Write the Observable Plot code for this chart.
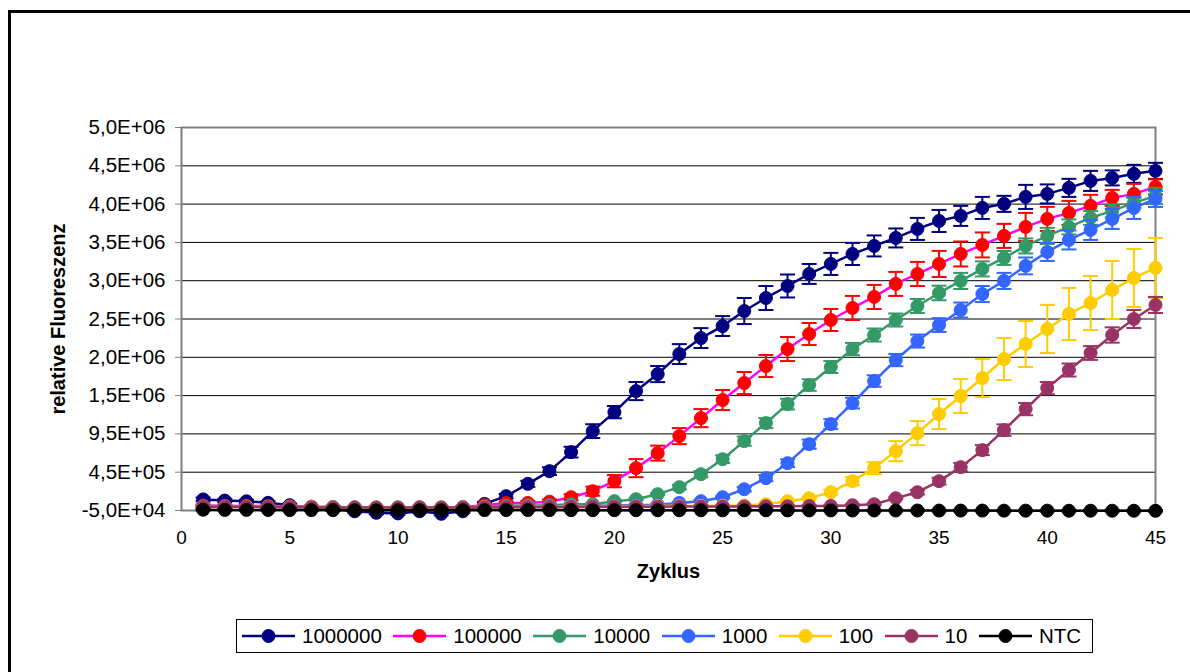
<!DOCTYPE html>
<html>
<head>
<meta charset="utf-8">
<script src="https://cdn.jsdelivr.net/npm/d3@7"></script>
<script src="https://cdn.jsdelivr.net/npm/@observablehq/plot@0.6"></script>
<style>
  body { margin: 0; background: #fff; font-family: "Liberation Sans", Arial, sans-serif; }
  #page { position: relative; width: 1190px; height: 672px; overflow: hidden; background: #fff; }
  #frame { position: absolute; left: 8px; top: 10px; width: 1300px; height: 800px;
           border-left: 3px solid #000; border-top: 3px solid #000; box-sizing: border-box; }
  #chart { position: absolute; left: 0; top: 0; }
  #legend { position: absolute; left: 236px; top: 619px; width: 857px; height: 34px;
            border: 1px solid #000; box-sizing: border-box; display: flex; align-items: center;
            padding-left: 5px; font-size: 20.5px; color: #000; background: #fff; }
  .item { display: flex; align-items: center; margin-right: 11.5px; }
  .item span { margin-left: 7px; line-height: 1; }
</style>
</head>
<body>
<div id="page">
  <div id="frame"></div>
  <div id="chart"></div>
  <div id="legend"></div>
</div>
<script>
// qPCR amplification curves: mean fluorescence per cycle with standard deviation
const cycles = d3.range(1, 46);

const seriesNames = ["1000000", "100000", "10000", "1000", "100", "10", "NTC"];
const lineColors   = ["#000080", "#FF00FF", "#339966", "#3366FF", "#FFCC00", "#993366", "#000000"];
const markerColors = ["#000080", "#FF0000", "#339966", "#3366FF", "#FFCC00", "#993366", "#000000"];

const xTicks = [0, 5, 10, 15, 20, 25, 30, 35, 40, 45];
const yTicks = [-50000, 450000, 950000, 1450000, 1950000, 2450000, 2950000, 3450000, 3950000, 4450000, 4950000];
const yTickLabels = ["-5,0E+04", "4,5E+05", "9,5E+05", "1,5E+06", "2,0E+06", "2,5E+06",
                     "3,0E+06", "3,5E+06", "4,0E+06", "4,5E+06", "5,0E+06"];

// mean fluorescence per dilution
const v1000000 = [95000, 80000, 70000, 50000, 20000, -15000, -33000, -60000, -80000, -88000,
  -60000, -93000, -60000, 36000, 137000, 298000, 464000, 712000, 986000, 1234000,
  1509000, 1731000, 1992000, 2201000, 2358000, 2554000, 2724000, 2881000, 3038000, 3169000,
  3299000, 3404000, 3508000, 3626000, 3730000, 3796000, 3900000, 3953000, 4044000, 4083000,
  4162000, 4253000, 4292000, 4345000, 4384000];
const v100000 = [15000, 12000, 10000, 8000, 5000, 0, -5000, -10000, -15000, -15000,
  -10000, -15000, -5000, 20000, 49000, 49000, 65000, 124000, 202000, 333000,
  503000, 699000, 921000, 1156000, 1392000, 1614000, 1836000, 2058000, 2254000, 2437000,
  2594000, 2738000, 2908000, 3038000, 3169000, 3299000, 3417000, 3535000, 3652000, 3757000,
  3835000, 3927000, 4031000, 4083000, 4175000];
const v10000 = [5000, 5000, 3000, 2000, 0, -3000, -5000, -8000, -10000, -10000,
  -8000, -10000, -5000, 0, 10000, 15000, 20000, 32000, 32000, 72000,
  98000, 163000, 255000, 424000, 620000, 856000, 1091000, 1339000, 1588000, 1823000,
  2058000, 2241000, 2437000, 2620000, 2790000, 2947000, 3104000, 3247000, 3404000, 3535000,
  3652000, 3770000, 3861000, 3966000, 4057000];
const v1000 = [0, 0, -2000, -3000, -5000, -8000, -10000, -12000, -15000, -15000,
  -12000, -15000, -10000, -5000, 0, 5000, 8000, 10000, 12000, 15000,
  20000, 26000, 49000, 72000, 124000, 228000, 372000, 568000, 816000, 1078000,
  1352000, 1640000, 1914000, 2162000, 2371000, 2567000, 2776000, 2947000, 3143000, 3326000,
  3482000, 3613000, 3757000, 3900000, 4018000];
const v100 = [0, 0, 0, -2000, -3000, -5000, -8000, -10000, -10000, -10000,
  -10000, -10000, -8000, -5000, -3000, 0, 0, 2000, 3000, 5000,
  5000, 8000, 8000, 10000, 12000, 15000, 32000, 72000, 111000, 189000,
  333000, 503000, 725000, 960000, 1209000, 1444000, 1679000, 1927000, 2124000, 2320000,
  2516000, 2659000, 2829000, 2986000, 3117000];
const v10 = [0, 0, -2000, -3000, -5000, -8000, -10000, -12000, -12000, -12000,
  -10000, -12000, -10000, -8000, -5000, -5000, -3000, -3000, 0, 0,
  0, 0, 2000, 2000, 3000, 3000, 5000, 5000, 8000, 10000,
  19000, 32000, 111000, 189000, 333000, 516000, 738000, 999000, 1274000, 1548000,
  1784000, 2006000, 2241000, 2450000, 2633000];
const vNTC = [-40000, -42000, -42000, -43000, -44000, -45000, -45000, -46000, -47000, -47000,
  -46000, -47000, -46000, -45000, -44000, -44000, -45000, -45000, -46000, -46000,
  -46000, -47000, -47000, -47000, -48000, -48000, -48000, -49000, -49000, -49000,
  -50000, -50000, -50000, -50000, -51000, -51000, -51000, -52000, -52000, -52000,
  -53000, -53000, -53000, -53000, -54000];

// standard deviation per dilution
const e1000000 = [25000, 22000, 20000, 20000, 20000, 18000, 18000, 18000, 20000, 20000,
  18000, 20000, 20000, 25000, 30000, 40000, 50000, 70000, 90000, 80000,
  118000, 105000, 130000, 130000, 130000, 170000, 157000, 150000, 130000, 144000,
  144000, 137000, 124000, 144000, 144000, 131000, 144000, 105000, 157000, 124000,
  118000, 131000, 98000, 118000, 105000];
const e100000 = [15000, 15000, 15000, 15000, 15000, 15000, 15000, 15000, 15000, 15000,
  15000, 15000, 15000, 15000, 20000, 25000, 30000, 40000, 60000, 80000,
  118000, 98000, 105000, 118000, 131000, 144000, 144000, 157000, 144000, 144000,
  157000, 157000, 157000, 157000, 170000, 163000, 163000, 157000, 183000, 157000,
  157000, 144000, 105000, 131000, 98000];
const e10000 = [12000, 12000, 12000, 12000, 12000, 12000, 12000, 12000, 12000, 12000,
  12000, 12000, 12000, 12000, 12000, 12000, 12000, 12000, 12000, 12000,
  12000, 12000, 30000, 40000, 50000, 60000, 65000, 70000, 75000, 78000,
  80000, 85000, 85000, 91000, 95000, 105000, 98000, 91000, 98000, 105000,
  98000, 91000, 85000, 65000, 105000];
const e1000 = [12000, 12000, 12000, 12000, 12000, 12000, 12000, 12000, 12000, 12000,
  12000, 12000, 12000, 12000, 12000, 12000, 12000, 12000, 12000, 12000,
  12000, 12000, 12000, 12000, 12000, 30000, 40000, 50000, 60000, 65000,
  70000, 75000, 80000, 85000, 90000, 98000, 105000, 105000, 110000, 118000,
  124000, 131000, 131000, 144000, 105000];
const e100 = [12000, 12000, 12000, 12000, 12000, 12000, 12000, 12000, 12000, 12000,
  12000, 12000, 12000, 12000, 12000, 12000, 12000, 12000, 12000, 12000,
  12000, 12000, 12000, 12000, 12000, 12000, 12000, 12000, 12000, 30000,
  52000, 78000, 131000, 157000, 196000, 222000, 248000, 274000, 300000, 314000,
  340000, 353000, 379000, 379000, 392000];
const e10 = [12000, 12000, 12000, 12000, 12000, 12000, 12000, 12000, 12000, 12000,
  12000, 12000, 12000, 12000, 12000, 12000, 12000, 12000, 12000, 12000,
  12000, 12000, 12000, 12000, 12000, 12000, 12000, 12000, 12000, 12000,
  12000, 12000, 12000, 30000, 45000, 55000, 65000, 75000, 80000, 80000,
  85000, 90000, 100000, 118000, 105000];
const eNTC = [10000, 10000, 10000, 10000, 10000, 10000, 10000, 10000, 10000, 10000,
  10000, 10000, 10000, 10000, 10000, 10000, 10000, 10000, 10000, 10000,
  10000, 10000, 10000, 10000, 10000, 10000, 10000, 10000, 10000, 10000,
  10000, 10000, 10000, 10000, 10000, 10000, 10000, 10000, 10000, 10000,
  10000, 10000, 10000, 10000, 10000];

const means = [v1000000, v100000, v10000, v1000, v100, v10, vNTC];
const errors = [e1000000, e100000, e10000, e1000, e100, e10, eNTC];

// one table per series
const tables = seriesNames.map((name, s) =>
  cycles.map((c, i) => ({series: name, cycle: c, value: means[s][i], err: errors[s][i]}))
);

// horizontal cap of an error bar, sized from the dot radius
const capSymbol = {
  draw(context, size) {
    const w = Math.sqrt(size / Math.PI);
    context.moveTo(-w, 0);
    context.lineTo(w, 0);
  }
};

const yLabel = new Map(yTicks.map((t, i) => [t, yTickLabels[i]]));

const seriesMarks = tables.flatMap((rows, s) => [
  Plot.line(rows, {x: "cycle", y: "value", stroke: lineColors[s], strokeWidth: 2.5}),
  Plot.ruleX(rows, {x: "cycle", y1: d => d.value - d.err, y2: d => d.value + d.err,
                    stroke: markerColors[s], strokeWidth: 2}),
  Plot.dot(rows, {x: "cycle", y: d => d.value - d.err, symbol: capSymbol, r: 7.5,
                  fill: "none", stroke: markerColors[s], strokeWidth: 2}),
  Plot.dot(rows, {x: "cycle", y: d => d.value + d.err, symbol: capSymbol, r: 7.5,
                  fill: "none", stroke: markerColors[s], strokeWidth: 2}),
  Plot.dot(rows, {x: "cycle", y: "value", r: 6.5, fill: markerColors[s],
                  stroke: markerColors[s], strokeWidth: 1})
]);

const chart = Plot.plot({
  width: 1190,
  height: 600,
  marginLeft: 181,
  marginRight: 35,
  marginTop: 127,
  marginBottom: 90,
  style: {fontFamily: "'Liberation Sans', Arial, sans-serif", fontSize: "18px", color: "#000", background: "transparent", overflow: "visible"},
  x: {domain: [0, 45], axis: null},
  y: {domain: [-50000, 4950000], axis: null},
  marks: [
    Plot.ruleY(yTicks, {stroke: "#000", strokeWidth: 1}),
    Plot.frame({stroke: "#808080", strokeWidth: 2}),
    // tick marks on the value axis
    Plot.axisY(yTicks, {tickSize: 6, stroke: "#808080", tickFormat: () => "", label: null}),
    // tick labels
    Plot.text(yTicks, {y: d => d, text: d => yLabel.get(d), frameAnchor: "left", dx: -16,
                       textAnchor: "end", fontSize: 20.5, fill: "#000"}),
    Plot.text(xTicks, {x: d => d, text: d => String(d), frameAnchor: "bottom", dy: 33,
                       textAnchor: "middle", fontSize: 19, fill: "#000"}),
    // axis titles
    Plot.text(["relative Fluoreszenz"], {text: d => d, frameAnchor: "left", dx: -123, rotate: -90,
                                         textAnchor: "middle", fontWeight: "bold", fontSize: 20, fill: "#000"}),
    Plot.text(["Zyklus"], {text: d => d, frameAnchor: "bottom", dy: 67, textAnchor: "middle",
                           fontWeight: "bold", fontSize: 20, fill: "#000"}),
    ...seriesMarks
  ]
});
document.getElementById("chart").appendChild(chart);

// legend: line with marker, then the series name
const legend = d3.select("#legend");
seriesNames.forEach((name, s) => {
  const item = legend.append("div").attr("class", "item");
  const svg = item.append("svg").attr("width", 53).attr("height", 20);
  svg.append("line").attr("x1", 0).attr("x2", 53).attr("y1", 10).attr("y2", 10)
     .attr("stroke", lineColors[s]).attr("stroke-width", 2.5);
  svg.append("circle").attr("cx", 26.5).attr("cy", 10).attr("r", 6.5)
     .attr("fill", markerColors[s]).attr("stroke", markerColors[s]).attr("stroke-width", 1);
  item.append("span").text(name);
});
</script>
</body>
</html>
